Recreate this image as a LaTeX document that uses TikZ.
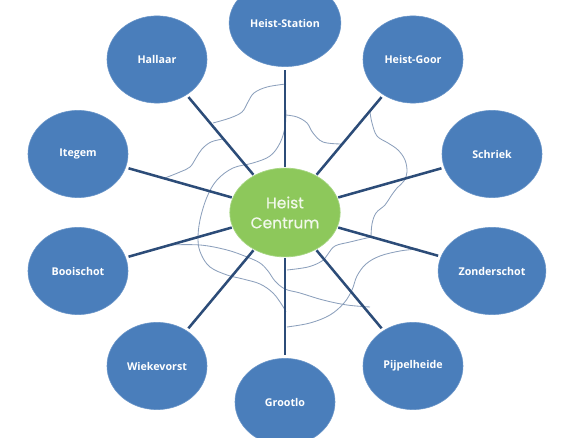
\documentclass[tikz,border=0pt]{standalone}
\usepackage{fontspec}
\setmainfont{Open Sans}
\newfontfamily\centrumfont{Poppins}[FakeBold=0.6]
\usetikzlibrary{shapes.geometric}
\definecolor{deel}{HTML}{4A7EBB}
\definecolor{deelrand}{HTML}{6A95C8}
\definecolor{kern}{HTML}{8DC85B}
\definecolor{kernrand}{HTML}{A6D683}
\definecolor{spaak}{HTML}{2C4C78}
\definecolor{grens}{HTML}{8CA0BC}
\tikzset{
  deelnode/.style ={ellipse, fill=deel, draw=deelrand, line width=0.4pt,
                    minimum width=2.5cm, minimum height=2.18cm,
                    text=white, font=\fontsize{7.6}{9}\selectfont\bfseries},
  kernnode/.style ={ellipse, fill=kern, draw=kernrand, line width=0.5pt,
                    minimum width=2.5cm, minimum height=2.22cm, align=center,
                    text=white!88!kern, font=\centrumfont\fontsize{11}{14.2}\selectfont},
  spaak/.style    ={draw=spaak, line width=1.8pt, shorten >=2pt, shorten <=0.6pt},
  grens/.style    ={draw=grens, line width=0.6pt, smooth, tension=0.6},
}
\begin{document}
\begin{tikzpicture}[x=0.025cm, y=-0.025cm]
    \clip (0,0) rectangle (561,438);
    % map outline
    \draw[grens] plot coordinates {(213,123) (230,118) (242,112) (248,102) (254,93) (267,87) (286,84)};
    \draw[grens] plot coordinates {(165,178) (180,172) (190,167) (196,158) (202,149) (211,142) (223,139)};
    \draw[grens] plot coordinates {(286,110) (285,127) (280,143) (270,156) (253,163) (233,168) (217,180)
      (207,197) (200,220) (198,240) (201,254) (210,267) (227,275) (243,279) (260,284) (273,293) (282,305) (286,312)};
    \draw[grens] plot coordinates {(286,115) (297,117) (307,123) (313,133) (323,142) (341,144)};
    \draw[grens] plot coordinates {(370,112) (372,123) (377,136) (388,143) (398,150) (405,160) (407,172)
      (404,181) (397,188) (391,196) (385,205) (376,213) (372,224) (371,237)};
    \draw[grens] plot coordinates {(371,237) (350,242) (335,246) (328,254) (322,261) (308,267) (287,270)};
    \draw[grens] plot coordinates {(168,245) (200,245) (227,250) (247,257) (260,263) (268,271) (275,281)
      (285,289) (300,293) (323,300) (347,305) (370,307)};
    \draw[grens] plot coordinates {(287,327) (310,323) (330,315) (344,303) (352,290) (357,276) (366,264)
      (380,256) (400,251) (418,249)};
    % centre
    \node[kernnode] (centrum) at (285,212.5) {Heist\\Centrum};
    % outer ring
    \node[deelnode] (station)   at (285,23)   {Heist-Station};
    \node[deelnode] (hallaar)   at (157,59.5) {Hallaar};
    \node[deelnode] (goor)      at (413,59.5) {Heist-Goor};
    \node[deelnode] (itegem)    at (78,154)   {Itegem};
    \node[deelnode] (schriek)   at (492,154)  {Schriek};
    \node[deelnode] (booischot) at (78,271)   {Booischot};
    \node[deelnode] (zonder)    at (492,271)  {Zonderschot};
    \node[deelnode] (wieke)     at (157,366)  {Wiekevorst};
    \node[deelnode] (pijpel)    at (413,366)  {Pijpelheide};
    \node[deelnode] (grootlo)   at (285,402)  {Grootlo};
    % spokes
    \draw[spaak] (centrum) -- (station);   \draw[spaak] (centrum) -- (hallaar);
    \draw[spaak] (centrum) -- (goor);      \draw[spaak] (centrum) -- (itegem);
    \draw[spaak] (centrum) -- (schriek);   \draw[spaak] (centrum) -- (booischot);
    \draw[spaak] (centrum) -- (zonder);    \draw[spaak] (centrum) -- (wieke);
    \draw[spaak] (centrum) -- (pijpel);    \draw[spaak] (centrum) -- (grootlo);
  \end{tikzpicture}
\end{document}
